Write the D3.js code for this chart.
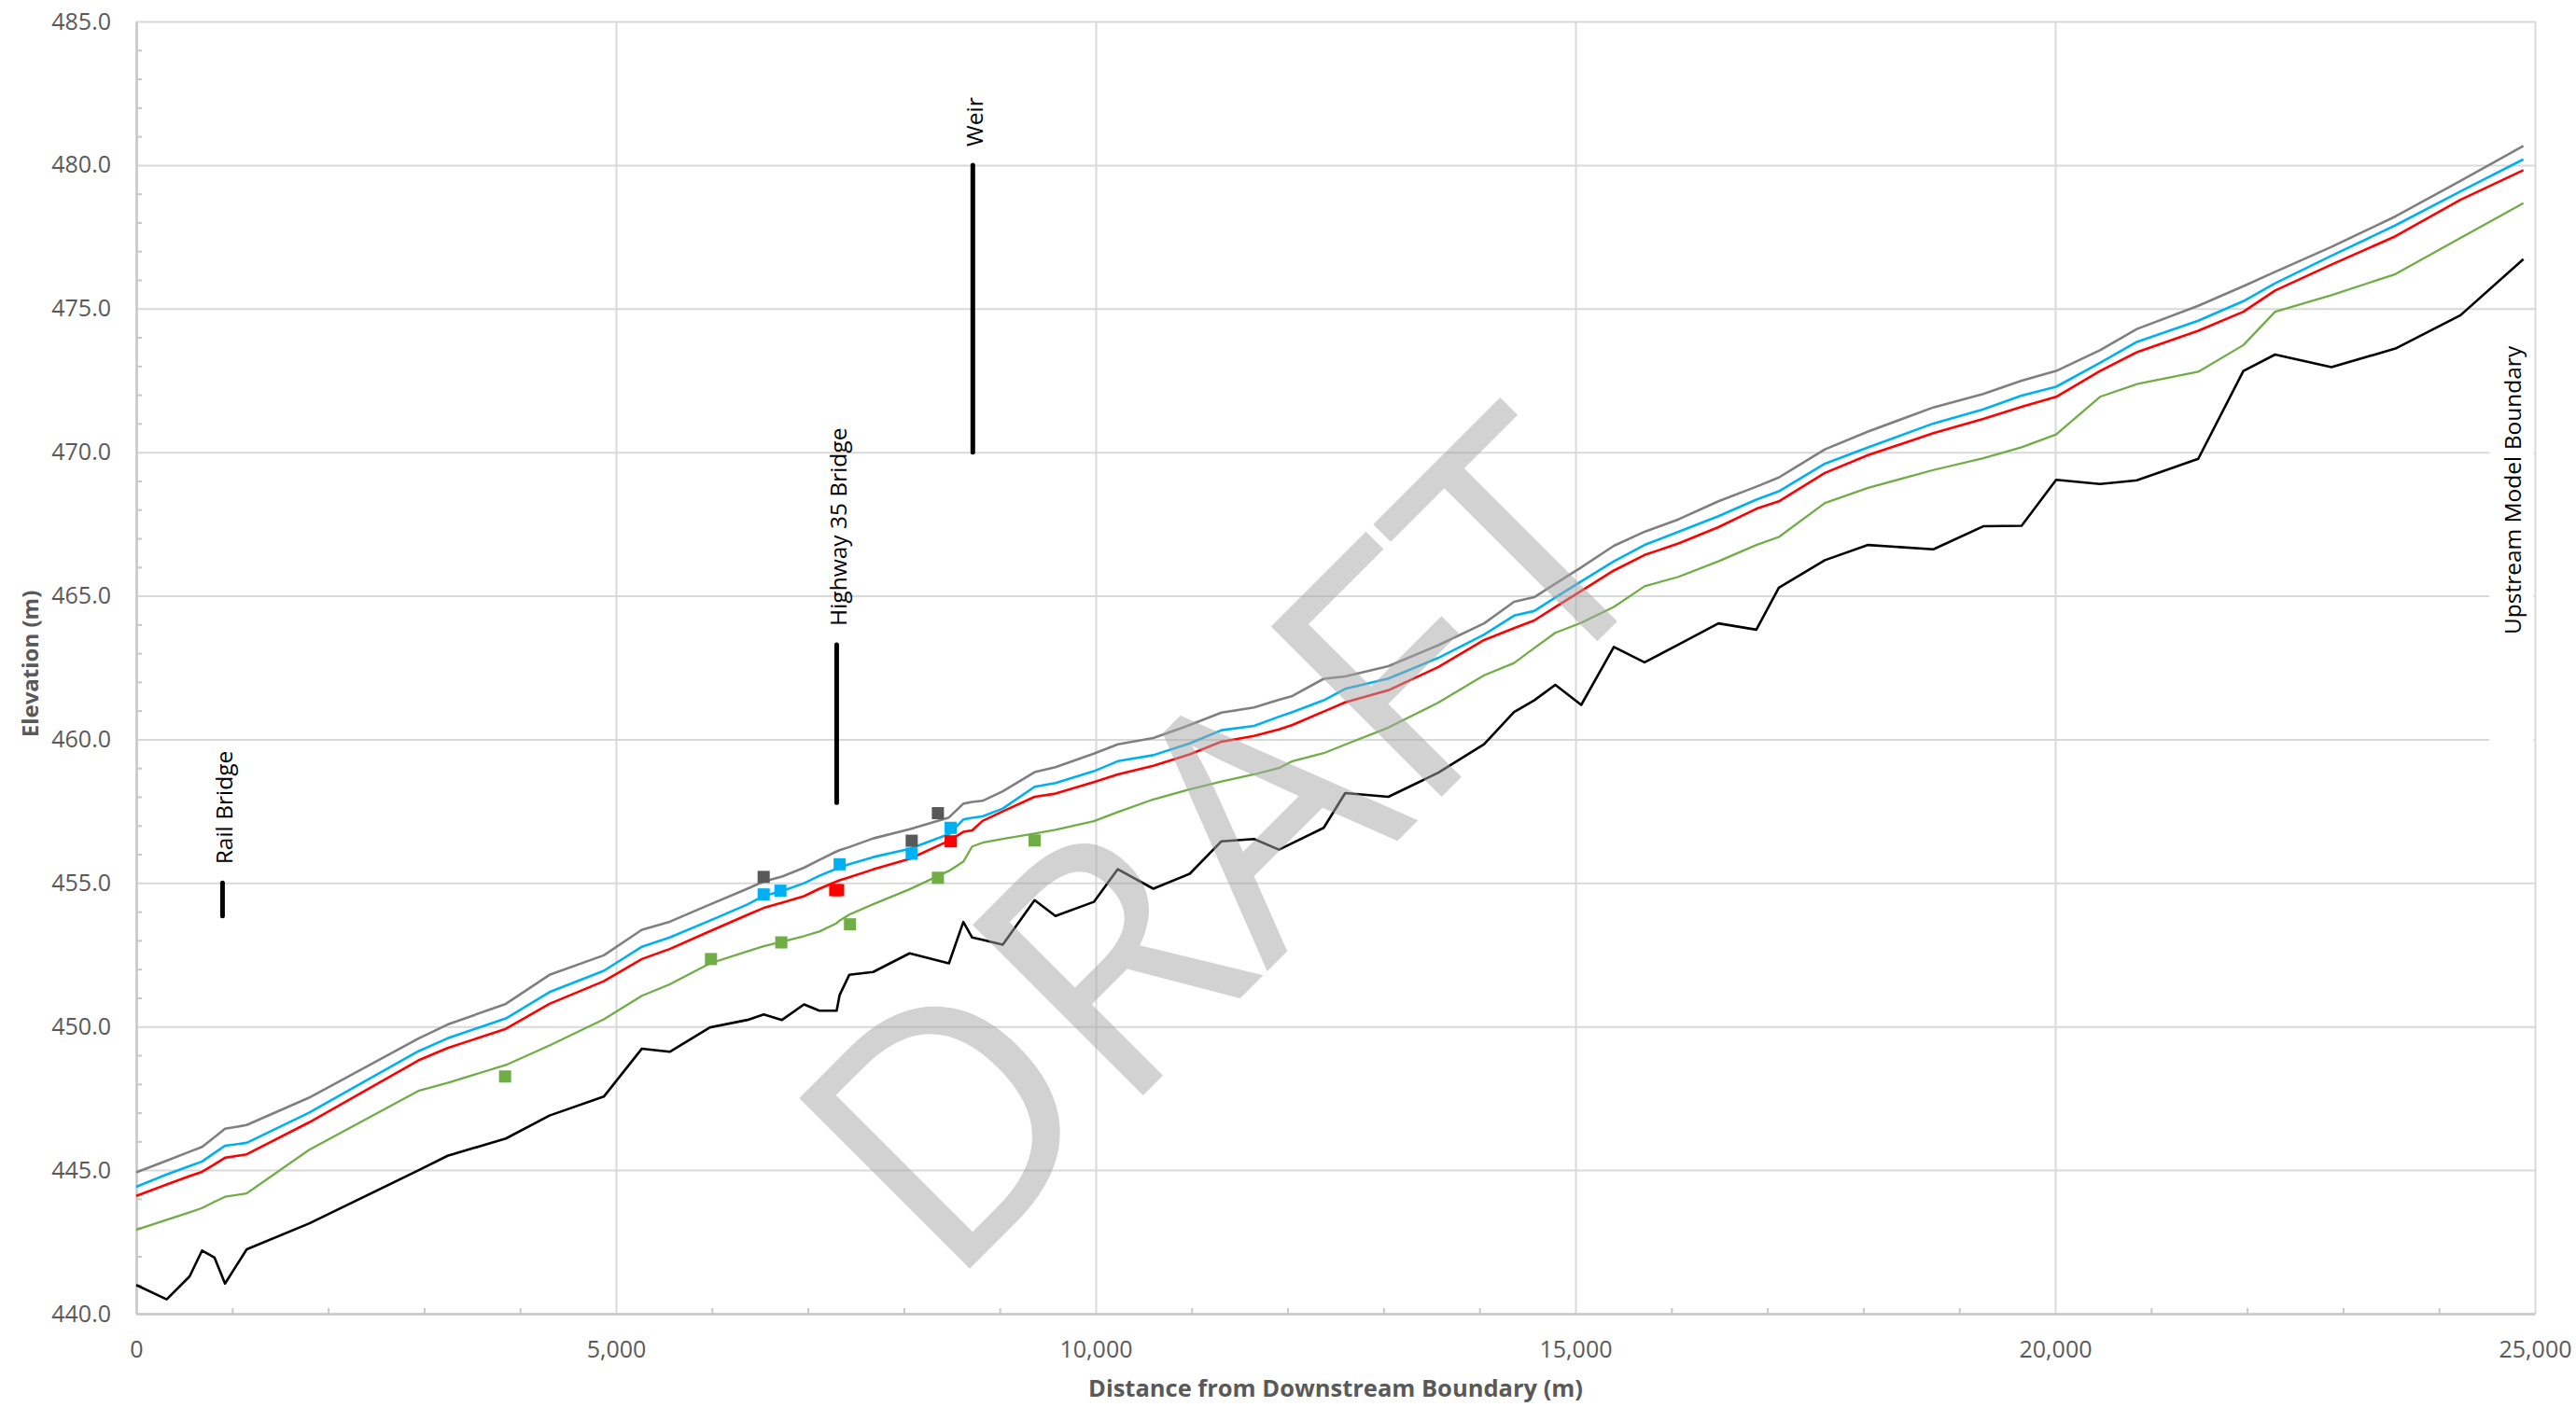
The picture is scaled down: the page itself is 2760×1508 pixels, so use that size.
<!DOCTYPE html>
<html><head><meta charset="utf-8">
<script src="https://cdn.jsdelivr.net/npm/d3@7"></script>
<style>html,body{margin:0;padding:0;background:#fff;} svg{display:block;}</style>
</head><body>
<svg id="chart" width="2760" height="1508"></svg>
<script>
// ---------------- DATA ----------------
const stations = [0,317,556,686,816,925,1151,1800,2940,3245,3852,4307,4873,5270,5560,5980,6370,6540,6730,6960,7120,7300,7330,7431,7680,8060,8470,8620,8712,8820,9031,9363,9580,9980,10230,10600,10980,11310,11650,11910,12050,12376,12600,13050,13571,14048,14360,14570,14790,15060,15400,15720,16073,16490,16885,17120,17600,18050,18730,19250,19650,20010,20467,20851,21491,21961,22292,22879,23546,24224,24880];

const bedElev = [441.0,440.5,441.3,442.2,441.95,441.05,442.24,443.14,
444.99,445.5,446.1,446.9,447.56,449.23,449.12,449.97,
450.23,450.42,450.23,450.77,450.55,450.55,451.09,451.8,
451.9,452.55,452.2,453.64,453.1,453.02,452.85,454.4,
453.85,454.34,455.48,454.8,455.32,456.45,456.53,456.16,
456.39,456.92,458.13,458.0,458.84,459.83,460.95,461.36,
461.9,461.2,463.22,462.68,463.3,464.04,463.82,465.28,
466.24,466.77,466.62,467.42,467.44,469.04,468.89,469.02,
469.77,472.83,473.4,472.96,473.61,474.77,476.72];

const wsGreen = [442.92,443.27,443.53,443.68,443.9,444.07,444.19,445.7,
447.76,448.04,448.66,449.34,450.25,451.07,451.47,452.2,
452.62,452.8,452.95,453.15,453.31,453.6,453.69,453.9,
454.26,454.78,455.42,455.74,456.27,456.4,456.53,456.72,
456.85,457.15,457.47,457.91,458.26,458.53,458.78,459.0,
459.24,459.52,459.82,460.41,461.28,462.23,462.66,463.18,
463.71,464.06,464.61,465.33,465.66,466.2,466.77,467.05,
468.23,468.76,469.38,469.79,470.17,470.62,471.93,472.37,
472.8,473.73,474.89,475.47,476.2,477.46,478.67];

const wsRed = [444.1,444.5,444.79,444.94,445.2,445.43,445.55,446.66,
448.82,449.25,449.92,450.79,451.58,452.35,452.7,453.32,
453.89,454.13,454.31,454.54,454.8,455.05,455.09,455.2,
455.47,455.84,456.47,456.78,456.83,457.16,457.49,458.0,
458.11,458.51,458.78,459.08,459.48,459.92,460.12,460.35,
460.5,460.97,461.29,461.71,462.52,463.46,463.87,464.14,
464.61,465.17,465.88,466.42,466.82,467.39,468.03,468.29,
469.28,469.9,470.66,471.16,471.58,471.93,472.83,473.48,
474.23,474.89,475.63,476.53,477.52,478.79,479.82];

const wsBlue = [444.42,444.85,445.14,445.3,445.6,445.85,445.95,447.0,
449.14,449.59,450.28,451.2,451.94,452.78,453.1,453.69,
454.25,454.55,454.72,454.99,455.25,455.5,455.54,455.65,
455.9,456.19,456.7,457.21,457.27,457.32,457.59,458.35,
458.48,458.89,459.24,459.45,459.86,460.32,460.47,460.79,
460.95,461.36,461.76,462.12,462.84,463.65,464.31,464.47,
464.94,465.5,466.2,466.77,467.23,467.77,468.35,468.64,
469.6,470.17,471.0,471.49,471.97,472.28,473.11,473.84,
474.58,475.26,475.88,476.84,477.9,479.08,480.2];

const wsGrey = [444.92,445.33,445.64,445.81,446.15,446.44,446.57,447.52,
449.58,450.07,450.79,451.8,452.48,453.37,453.65,454.25,
454.8,455.05,455.22,455.53,455.8,456.1,456.14,456.25,
456.55,456.87,457.28,457.76,457.82,457.86,458.19,458.86,
459.03,459.5,459.83,460.05,460.5,460.93,461.11,461.38,
461.51,462.11,462.19,462.55,463.28,464.04,464.79,464.95,
465.42,465.99,466.74,467.23,467.66,468.29,468.8,469.12,
470.1,470.72,471.56,472.03,472.49,472.83,473.55,474.29,
475.1,475.78,476.28,477.15,478.21,479.45,480.67];

// observed high-water marks
const obsGreyX = [6539, 8082, 8355];
const obsGreyY = [455.21, 456.47, 457.43];
const obsBlueX = [6539, 6714, 7331, 8082, 8488];
const obsBlueY = [454.60, 454.73, 455.65, 456.02, 456.92];
const obsRedX = [7285, 7315, 8488];
const obsRedY = [454.75, 454.75, 456.45];
const obsGreenX = [3844, 5990, 6723, 7439, 8355, 9363];
const obsGreenY = [448.26, 452.35, 452.93, 453.56, 455.18, 456.48];

// structure annotations
const annotNames = ["Rail Bridge", "Highway 35 Bridge", "Weir", "Upstream Model Boundary"];
const annotStation = [899, 7300, 8719, 24750];
const annotBottom = [453.85, 457.8, 470.0, 463.0];
const annotTop = [455.0, 463.3, 480.0, 463.0];

const yTicks = [440,445,450,455,460,465,470,475,480,485];
const xTicks = [0,5000,10000,15000,20000,25000];
const yMinor = d3.range(440, 486, 1).filter(v => v % 5 !== 0);
const xMinor = d3.range(0, 25001, 1000).filter(v => v % 5000 !== 0);

const xTitle = "Distance from Downstream Boundary (m)";
const yTitle = "Elevation (m)";
const watermark = "DRAFT";

// ---------------- LAYOUT ----------------
const svg = d3.select("#chart");
const L = 146, R = 2716, T = 23, B = 1408;
const x = d3.scaleLinear().domain([0, 25000]).range([L, R]);
const y = d3.scaleLinear().domain([440, 485]).range([B, T]);
const tickFont = "'Open Sans', 'Noto Sans', sans-serif";

svg.append("rect").attr("width", 2760).attr("height", 1508).attr("fill", "#fff");

// gridlines
const gy = svg.append("g").attr("transform", `translate(${L},0)`)
  .call(d3.axisLeft(y).tickValues(yTicks).tickSize(-(R - L)).tickFormat(""));
gy.select(".domain").remove();
gy.selectAll("line").attr("stroke", "#D9D9D9").attr("stroke-width", 2);

const gx = svg.append("g").attr("transform", `translate(0,${B})`)
  .call(d3.axisBottom(x).tickValues(xTicks).tickSize(-(B - T)).tickFormat(""));
gx.select(".domain").remove();
gx.selectAll("line").attr("stroke", "#D9D9D9").attr("stroke-width", 2);

// axis lines + minor ticks
const ay = svg.append("g").attr("transform", `translate(${L},0)`)
  .call(d3.axisLeft(y).tickValues(yMinor).tickSize(-6).tickSizeOuter(0).tickFormat(""));
ay.select(".domain").attr("stroke", "#C8C8C8").attr("stroke-width", 2.5);
ay.selectAll("line").attr("stroke", "#C8C8C8").attr("stroke-width", 2);

const ax = svg.append("g").attr("transform", `translate(0,${B})`)
  .call(d3.axisBottom(x).tickValues(xMinor).tickSize(-6).tickSizeOuter(0).tickFormat(""));
ax.select(".domain").attr("stroke", "#C8C8C8").attr("stroke-width", 2.5);
ax.selectAll("line").attr("stroke", "#C8C8C8").attr("stroke-width", 2);

// tick labels
const ly = svg.append("g").attr("transform", `translate(${L},0)`)
  .call(d3.axisLeft(y).tickValues(yTicks).tickSize(0).tickPadding(27).tickFormat(d3.format(".1f")));
ly.select(".domain").remove();
ly.selectAll("text").attr("font-family", tickFont).attr("font-size", 25).attr("fill", "#595959");

const lx = svg.append("g").attr("transform", `translate(0,${B})`)
  .call(d3.axisBottom(x).tickValues(xTicks).tickSize(0).tickPadding(29).tickFormat(d3.format(",")));
lx.select(".domain").remove();
lx.selectAll("text").attr("font-family", tickFont).attr("font-size", 25).attr("fill", "#595959");

// axis titles
svg.append("text").attr("x", (L + R) / 2).attr("y", 1497).attr("text-anchor", "middle")
  .attr("font-family", tickFont).attr("font-weight", "bold").attr("font-size", 25.5)
  .attr("fill", "#595959").text(xTitle);
svg.append("text").attr("transform", `translate(41,${(T + B) / 2 - 4}) rotate(-90)`)
  .attr("text-anchor", "middle").attr("font-family", tickFont).attr("font-weight", "bold")
  .attr("font-size", 24).attr("fill", "#595959").text(yTitle);

// profile lines
const series = [
  {vals: bedElev, color: "#000000", w: 2.6},
  {vals: wsGreen, color: "#70AD47", w: 2.3},
  {vals: wsRed, color: "#FF0000", w: 2.6},
  {vals: wsBlue, color: "#00B0F0", w: 2.6},
  {vals: wsGrey, color: "#7F7F7F", w: 2.6}
];
const line = d3.line().x(d => x(d[0])).y(d => y(d[1]));
series.forEach(s => {
  svg.append("path").datum(stations.map((st, i) => [st, s.vals[i]]))
    .attr("d", line).attr("fill", "none").attr("stroke", s.color)
    .attr("stroke-width", s.w).attr("stroke-linejoin", "round");
});

// observed markers
const obs = [
  {xs: obsGreenX, ys: obsGreenY, color: "#70AD47"},
  {xs: obsRedX, ys: obsRedY, color: "#FF0000"},
  {xs: obsBlueX, ys: obsBlueY, color: "#00B0F0"},
  {xs: obsGreyX, ys: obsGreyY, color: "#595959"}
];
const ms = 13;
obs.forEach(o => {
  svg.append("g").selectAll("rect").data(o.xs.map((v, i) => [v, o.ys[i]])).join("rect")
    .attr("x", d => x(d[0]) - ms / 2).attr("y", d => y(d[1]) - ms / 2)
    .attr("width", ms).attr("height", ms).attr("fill", o.color);
});

// annotations
const annFont = "'Open Sans', 'Noto Sans', sans-serif";
annotNames.forEach((name, i) => {
  const ax0 = x(annotStation[i]);
  const g = svg.append("g");
  if (annotTop[i] > annotBottom[i]) {
    g.append("line").attr("x1", ax0).attr("x2", ax0)
      .attr("y1", y(annotBottom[i])).attr("y2", y(annotTop[i]))
      .attr("stroke", "#000").attr("stroke-width", 5).attr("stroke-linecap", "round");
  }
  const bg = g.append("rect").attr("fill", "#fff");
  const t = g.append("text")
    .attr("transform", `translate(${ax0 + 11},${y(annotTop[i]) - 20}) rotate(-90)`)
    .attr("font-family", annFont).attr("font-size", 24.5).attr("fill", "#000").text(name);
  if (annotTop[i] === annotBottom[i]) {
    const bb = t.node().getBoundingClientRect();
    bg.attr("x", bb.left - 8).attr("y", bb.top - 20)
      .attr("width", R - 1.5 - (bb.left - 8)).attr("height", bb.height + 150);
  } else {
    bg.remove();
  }
});

// watermark
svg.append("text").attr("transform", "translate(1304,896) rotate(-45)")
  .attr("text-anchor", "middle").attr("dominant-baseline", "central")
  .attr("font-family", "'Open Sans', 'Noto Sans', sans-serif").attr("font-size", 362)
  .attr("fill", "#A6A6A6").attr("opacity", 0.5).text(watermark);
</script>
</body></html>
